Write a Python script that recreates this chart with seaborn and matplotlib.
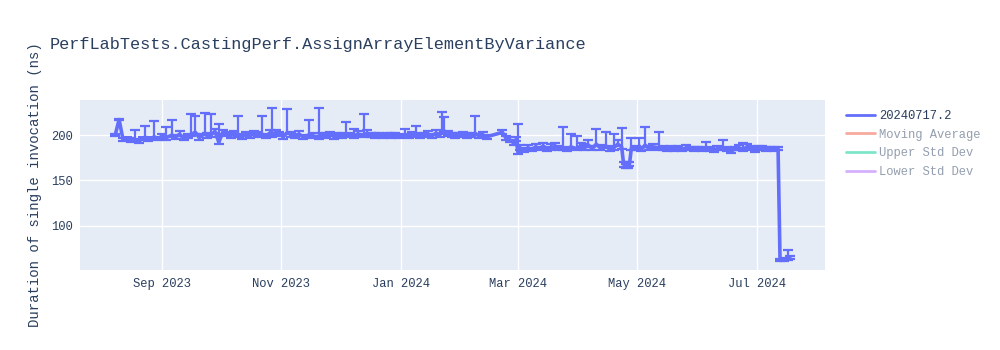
import matplotlib
matplotlib.use("Agg")
import matplotlib.pyplot as plt
import matplotlib.dates as mdates
from matplotlib.lines import Line2D
import pandas as pd
import seaborn as sns

title = "PerfLabTests.CastingPerf.AssignArrayElementByVariance"
y_label = "Duration of single invocation (ns)"
series_name = "20240717.2"
legend_labels = [series_name, "Moving Average", "Upper Std Dev", "Lower Std Dev"]
y_ticks = [100, 150, 200]
x_tick_dates = ["2023-09-01", "2023-11-01", "2024-01-01", "2024-03-01", "2024-05-01", "2024-07-01"]

dates = [
    "2023-08-08", "2023-08-10", "2023-08-12", "2023-08-14", "2023-08-16", "2023-08-18", "2023-08-20", "2023-08-22", "2023-08-23", "2023-08-25", "2023-08-28", "2023-08-30",
    "2023-09-01", "2023-09-03", "2023-09-06", "2023-09-08", "2023-09-10", "2023-09-12", "2023-09-14", "2023-09-16", "2023-09-18", "2023-09-20", "2023-09-23", "2023-09-24", "2023-09-26", "2023-09-28", "2023-09-30",
    "2023-10-02", "2023-10-04", "2023-10-06", "2023-10-08", "2023-10-10", "2023-10-12", "2023-10-14", "2023-10-16", "2023-10-18", "2023-10-20", "2023-10-22", "2023-10-24", "2023-10-26", "2023-10-27", "2023-10-29", "2023-10-31",
    "2023-11-02", "2023-11-04", "2023-11-06", "2023-11-08", "2023-11-10", "2023-11-12", "2023-11-15", "2023-11-17", "2023-11-20", "2023-11-22", "2023-11-24", "2023-11-26", "2023-11-28", "2023-11-30",
    "2023-12-02", "2023-12-04", "2023-12-06", "2023-12-08", "2023-12-10", "2023-12-13", "2023-12-15", "2023-12-17", "2023-12-19", "2023-12-21", "2023-12-23", "2023-12-25", "2023-12-27", "2023-12-29", "2023-12-31",
    "2024-01-03", "2024-01-05", "2024-01-07", "2024-01-09", "2024-01-11", "2024-01-13", "2024-01-15", "2024-01-17", "2024-01-19", "2024-01-21", "2024-01-22", "2024-01-23", "2024-01-25", "2024-01-27", "2024-01-29", "2024-01-31",
    "2024-02-02", "2024-02-04", "2024-02-06", "2024-02-08", "2024-02-10", "2024-02-12", "2024-02-14", "2024-02-22", "2024-02-24", "2024-02-26", "2024-02-28", "2024-02-29", "2024-03-01", "2024-03-02",
    "2024-03-04", "2024-03-06", "2024-03-08", "2024-03-10", "2024-03-12", "2024-03-14", "2024-03-16", "2024-03-18", "2024-03-20", "2024-03-22", "2024-03-24", "2024-03-26", "2024-03-28", "2024-03-31",
    "2024-04-02", "2024-04-04", "2024-04-06", "2024-04-08", "2024-04-10", "2024-04-12", "2024-04-15", "2024-04-17", "2024-04-19", "2024-04-21", "2024-04-23", "2024-04-24", "2024-04-25", "2024-04-26", "2024-04-27", "2024-04-28", "2024-04-30",
    "2024-05-02", "2024-05-03", "2024-05-05", "2024-05-07", "2024-05-09", "2024-05-12", "2024-05-14", "2024-05-16", "2024-05-18", "2024-05-20", "2024-05-22", "2024-05-24", "2024-05-26", "2024-05-28", "2024-05-30",
    "2024-06-01", "2024-06-03", "2024-06-05", "2024-06-07", "2024-06-09", "2024-06-11", "2024-06-14", "2024-06-16", "2024-06-18", "2024-06-20", "2024-06-22", "2024-06-24", "2024-06-26", "2024-06-28", "2024-06-30",
    "2024-07-02", "2024-07-04", "2024-07-06", "2024-07-08", "2024-07-10", "2024-07-12", "2024-07-13", "2024-07-15", "2024-07-17", "2024-07-18",
]

values = [
    200, 217, 195, 196, 194, 195, 193, 196, 197, 195, 198, 196,
    199, 197, 200, 198, 201, 196, 199, 201, 203, 197, 202, 199, 200, 204, 192,
    203, 201, 199, 202, 200, 198, 201, 199, 202, 200, 201, 199, 202, 200, 203, 201,
    198, 203, 200, 199, 201, 198, 200, 199, 198, 200, 199, 201, 198, 200,
    199, 201, 200, 199, 201, 200, 202, 200, 199, 200, 199, 200, 199, 200, 199,
    200, 199, 200, 201, 199, 200, 201, 199, 202, 200, 203, 205, 201, 200, 199, 200,
    201, 199, 200, 202, 199, 200, 198, 203, 196, 194, 191, 195, 181, 186,
    183, 186, 184, 187, 185, 188, 184, 186, 188, 185, 186, 184, 187, 185,
    188, 186, 189, 185, 190, 186, 188, 184, 186, 190, 187, 168, 166, 167, 168, 186, 185,
    188, 184, 189, 185, 187, 186, 185, 184, 185, 184, 185, 184, 186, 185, 184,
    185, 184, 186, 184, 183, 185, 186, 184, 182, 185, 186, 184, 187, 186, 183,
    185, 186, 184, 185, 184, 185, 63, 63, 64, 65,
]

err_up = [
    1, 1, 2, 2, 3, 10, 3, 2, 13, 3, 17, 2,
    2, 12, 17, 2, 3, 3, 2, 22, 18, 4, 22, 3, 23, 3, 20,
    3, 2, 3, 2, 21, 3, 2, 3, 2, 3, 20, 2, 3, 30, 3, 2,
    3, 26, 3, 2, 3, 2, 16, 3, 32, 2, 3, 2, 3, 2,
    3, 13, 2, 8, 3, 23, 3, 2, 3, 2, 2, 2, 3, 2, 2,
    7, 2, 3, 9, 3, 2, 3, 2, 3, 2, 22, 15, 3, 2, 3, 2,
    2, 3, 2, 19, 2, 3, 2, 2, 3, 4, 3, 3, 31, 3,
    3, 3, 2, 3, 2, 3, 3, 4, 3, 3, 23, 3, 14, 14,
    3, 4, 6, 3, 17, 3, 15, 4, 15, 4, 21, 2, 2, 3, 2, 11, 3,
    9, 3, 20, 3, 3, 17, 3, 2, 3, 2, 3, 2, 3, 2, 3,
    2, 3, 6, 3, 2, 3, 9, 3, 3, 2, 3, 7, 3, 2, 3,
    3, 2, 3, 2, 3, 2, 1, 2, 10, 2,
]

err_down = [
    1, 1, 2, 2, 2, 2, 2, 2, 2, 2, 2, 2,
    2, 2, 2, 2, 2, 2, 2, 2, 2, 2, 2, 2, 2, 2, 2,
    2, 2, 2, 2, 2, 2, 2, 2, 2, 2, 2, 2, 2, 2, 2, 2,
    2, 2, 2, 2, 2, 2, 2, 2, 2, 2, 2, 2, 2, 2,
    2, 2, 2, 2, 2, 2, 2, 2, 2, 2, 2, 2, 2, 2, 2,
    2, 2, 2, 2, 2, 2, 2, 2, 2, 2, 2, 2, 2, 2, 2, 2,
    2, 2, 2, 2, 2, 2, 2, 2, 2, 2, 2, 2, 2, 2,
    2, 2, 2, 2, 2, 2, 2, 2, 2, 2, 2, 2, 2, 2,
    2, 2, 2, 2, 2, 2, 2, 2, 2, 2, 2, 3, 2, 3, 2, 2, 2,
    2, 2, 2, 2, 2, 2, 2, 2, 2, 2, 2, 2, 2, 2, 2,
    2, 2, 2, 2, 2, 2, 2, 2, 2, 2, 2, 2, 2, 2, 2,
    2, 2, 2, 2, 2, 2, 1, 1, 1, 1,
]

BLUE = "#636efa"
TEXT = "#2a3f5f"
FONT = ["Liberation Mono", "DejaVu Sans Mono"]

df = pd.DataFrame({"date": pd.to_datetime(dates), "value": values,
                   "err_up": err_up, "err_down": err_down})

sns.set_theme(style="darkgrid")
plt.rcParams["font.family"] = FONT

fig = plt.figure(figsize=(10, 3.5), dpi=100)
ax = fig.add_axes([0.08, 1 - 270 / 350, 0.745, 170 / 350])
ax.set_facecolor("#E5ECF6")
ax.grid(color="white", linewidth=1)
for s in ax.spines.values():
    s.set_visible(False)

sns.lineplot(data=df, x="date", y="value", ax=ax, color=BLUE, linewidth=2.6,
             estimator=None, sort=False, legend=False)
ax.errorbar(df["date"], df["value"], yerr=[df["err_down"], df["err_up"]], fmt="none",
            ecolor=BLUE, elinewidth=1.6, capsize=3.6, capthick=1.6)

ax.set_xlim(pd.Timestamp("2023-07-21"), pd.Timestamp("2024-08-05"))
ax.set_ylim(51.6, 238.5)
ax.set_yticks(y_ticks)
ax.set_xticks(pd.to_datetime(x_tick_dates))
ax.xaxis.set_major_formatter(mdates.DateFormatter("%b %Y"))
ax.tick_params(axis="both", length=0, labelsize=8.7, colors=TEXT)
ax.tick_params(axis="x", pad=6)
ax.tick_params(axis="y", pad=5)
ax.set_xlabel("")
ax.set_ylabel("")

fig.text(0.035, 1 - 185 / 350, y_label, rotation=90, ha="center", va="center",
         fontsize=10.1, color=TEXT)
fig.text(0.05, 1 - 45 / 350, title, ha="left", va="center", fontsize=12.2, color=TEXT)

colors = [BLUE, "#EF553B", "#00cc96", "#ab63fa"]
alphas = [1.0, 0.5, 0.5, 0.5]
handles = [Line2D([], [], color=c, alpha=a, linewidth=2) for c, a in zip(colors, alphas)]
leg = ax.legend(handles, legend_labels, loc="upper left", bbox_to_anchor=(0.846, 1 - 110 / 350),
                bbox_transform=fig.transFigure, frameon=False, fontsize=8.7,
                handlelength=2.4, handletextpad=0.35, labelspacing=0.55, borderpad=0,
                borderaxespad=0)
for t, a in zip(leg.get_texts(), alphas):
    t.set_color(TEXT)
    t.set_alpha(a)

fig.savefig("out.png", dpi=100)
